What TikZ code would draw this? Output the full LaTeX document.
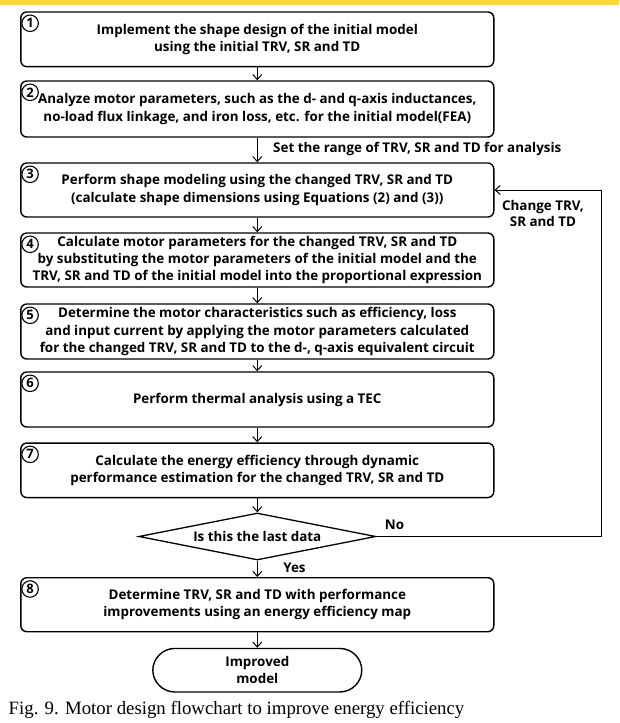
\documentclass[tikz,border=0pt]{standalone}
\usepackage{fontspec}
\setmainfont{Open Sans}
\newfontfamily\capfont{Liberation Serif}
\usetikzlibrary{shapes.geometric,arrows.meta,calc}
\definecolor{topbar}{RGB}{253,216,60}

\tikzset{
  stepbox/.style={draw, rounded corners=6pt, line width=1.4pt, minimum width=473pt,
    minimum height=55pt, align=center, inner sep=0pt, font=\fontsize{13.4}{17.2}\selectfont\bfseries},
  numcirc/.style={draw, circle, line width=1.1pt, minimum size=16.5pt, inner sep=0pt,
    font=\fontsize{13}{13}\selectfont\bfseries},
  flow/.style={-{Straight Barb[length=5pt,width=9pt]}, line width=1pt},
  lbl/.style={font=\fontsize{13.4}{16}\selectfont\bfseries, align=center, inner sep=1pt}
}

\begin{document}
\begin{tikzpicture}[x=1pt,y=-1pt]
  \useasboundingbox (0,0) rectangle (619,723);
  \fill[topbar] (0,0) rectangle (619,4.5);

  \node[stepbox, minimum height=54.7pt] (s1) at (257.3,39.3)
    {Implement the shape design of the initial model\\using the initial TRV, SR and TD};
  \node[stepbox, minimum height=56pt] (s2) at (257.3,109)
    {Analyze motor parameters, such as the d- and q-axis inductances,\\no-load flux linkage, and iron loss, etc. for the initial model(FEA)};
  \node[stepbox, minimum height=54pt] (s3) at (257.3,190)
    {Perform shape modeling using the changed TRV, SR and TD\\(calculate shape dimensions using Equations (2) and (3))};
  \node[stepbox, minimum height=54pt] (s4) at (257.3,260)
    {Calculate motor parameters for the changed TRV, SR and TD\\by substituting the motor parameters of the initial model and the\\TRV, SR and TD of the initial model into the proportional expression};
  \node[stepbox, minimum height=55pt] (s5) at (257.3,331.5)
    {Determine the motor characteristics such as efficiency, loss\\and input current by applying the motor parameters calculated\\for the changed TRV, SR and TD to the d-, q-axis equivalent circuit};
  \node[stepbox, minimum height=55pt] (s6) at (257.3,399.5)
    {Perform thermal analysis using a TEC};
  \node[stepbox, minimum height=54.5pt] (s7) at (257.3,470.3)
    {Calculate the energy efficiency through dynamic\\performance estimation for the changed TRV, SR and TD};
  \node[draw, diamond, aspect=5, line width=1.3pt, minimum width=237pt, minimum height=47pt,
    inner sep=0pt, font=\fontsize{13.4}{17}\selectfont\bfseries] (dec) at (257.3,536.5) {Is this the last data};
  \node[stepbox, minimum height=54pt] (s8) at (257.3,604.7)
    {Determine TRV, SR and TD with performance\\improvements using an energy efficiency map};
  \node[stepbox, rounded corners=22pt, minimum width=209pt, minimum height=43.5pt] (out) at (257.3,670.2)
    {Improved\\model};

  % circled step numbers
  \foreach \n in {1,...,8}
    \node[numcirc] (c\n) at ($(s\n.north west)+(10,12)$) {\n};

  \draw[flow] (s1) -- (s2);
  \draw[flow] (s2) -- (s3);
  \draw[flow] (s3) -- (s4);
  \draw[flow] (s4) -- (s5);
  \draw[flow] (s5) -- (s6);
  \draw[flow] (s6) -- (s7);
  \draw[flow] (s7) -- (dec);
  \draw[flow] (dec) -- (s8);
  \draw[flow] (s8) -- (out);

  \coordinate (back) at (601,536.5);
  \draw[flow] (dec.east) -- (back) |- (s3.east);

  \node[lbl, anchor=west] (rng) at (272,149) {Set the range of TRV, SR and TD for analysis};
  \node[lbl] (chg) at (543,213) {Change TRV,\\SR and TD};
  \node[lbl] (no) at (394.5,525) {No};
  \node[lbl] (yes) at (294.5,567.5) {Yes};

  \node[anchor=west, inner sep=0pt, font=\capfont\fontsize{18.8}{18.8}\selectfont] (cap) at (8.5,710)
    {Fig. 9. Motor design flowchart to improve energy efficiency};
\end{tikzpicture}
\end{document}
